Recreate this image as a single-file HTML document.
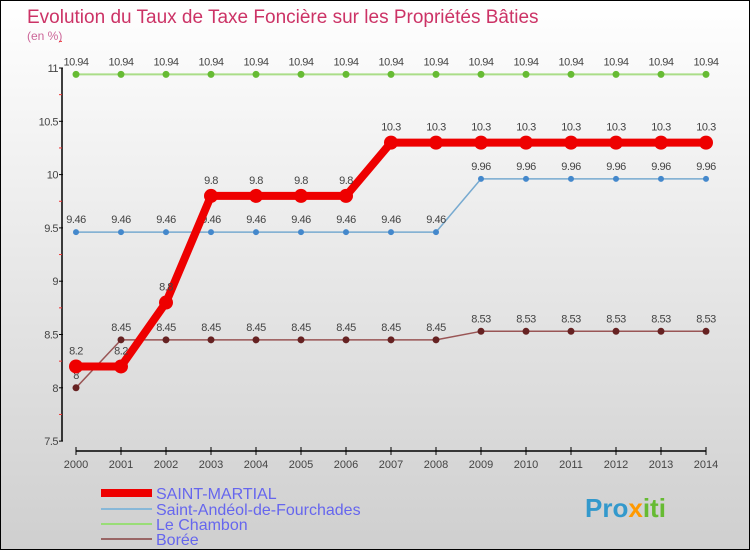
<!DOCTYPE html>
<html><head><meta charset="utf-8"><style>
body{margin:0;}
#c{position:relative;width:748px;height:548px;border:1px solid #000;background:linear-gradient(#ffffff,#cfcfcf);overflow:hidden;font-family:"Liberation Sans",sans-serif;}
svg text{font-family:"Liberation Sans",sans-serif;}
</style></head><body>
<div id="c">
<svg id="s" width="748" height="548" xmlns="http://www.w3.org/2000/svg">
<text x="26" y="22" font-size="19" fill="#cc3366">Evolution du Taux de Taxe Foncière sur les Propriétés Bâties</text>
<text x="26" y="39" font-size="12" fill="#cc6699">(en %)</text>
<g id="axes"></g><g id="series"></g>
<g>
<line x1="100" y1="492" x2="151" y2="492" stroke="#ee0000" stroke-width="8"/>
<text x="155" y="498" font-size="16" fill="#6666ee">SAINT-MARTIAL</text>
<line x1="100" y1="508" x2="151" y2="508" stroke="#88b8d8" stroke-width="2"/>
<text x="155" y="514" font-size="16" fill="#6666ee">Saint-Andéol-de-Fourchades</text>
<line x1="100" y1="523" x2="151" y2="523" stroke="#99dd77" stroke-width="2"/>
<text x="155" y="529" font-size="16" fill="#6666ee">Le Chambon</text>
<line x1="100" y1="538" x2="151" y2="538" stroke="#996666" stroke-width="2"/>
<text x="155" y="544" font-size="16" fill="#6666ee">Borée</text>
</g>
<text x="584" y="516" font-size="26" font-weight="bold"><tspan fill="#3399cc">Pro</tspan><tspan fill="#ff9900">x</tspan><tspan fill="#66bb33">iti</tspan></text>
</svg></div>
<script>
const years=[2000,2001,2002,2003,2004,2005,2006,2007,2008,2009,2010,2011,2012,2013,2014];
const saintMartial=[8.2,8.2,8.8,9.8,9.8,9.8,9.8,10.3,10.3,10.3,10.3,10.3,10.3,10.3,10.3];
const saintAndeol=[9.46,9.46,9.46,9.46,9.46,9.46,9.46,9.46,9.46,9.96,9.96,9.96,9.96,9.96,9.96];
const leChambon=[10.94,10.94,10.94,10.94,10.94,10.94,10.94,10.94,10.94,10.94,10.94,10.94,10.94,10.94,10.94];
const boree=[8,8.45,8.45,8.45,8.45,8.45,8.45,8.45,8.45,8.53,8.53,8.53,8.53,8.53,8.53];
const yTicks=[7.5,8,8.5,9,9.5,10,10.5,11];
const NS="http://www.w3.org/2000/svg";
const X=i=>75+i*45;
const Y=v=>67+(11-v)*106.6;
function mk(t,a,p){const e=document.createElementNS(NS,t);for(const k in a)e.setAttribute(k,a[k]);p.appendChild(e);return e;}
const ax=document.getElementById('axes'),se=document.getElementById('series');
let l=mk('line',{x1:61,y1:Y(11),x2:61,y2:Y(7.5),stroke:'#000','stroke-width':1.5},ax);


yTicks.forEach(v=>{
 let t=mk('line',{x1:58,y1:Y(v),x2:62,y2:Y(v),stroke:'#000'},ax);
 
 
 let m=mk('line',{x1:58,y1:Y(v+0.25),x2:61,y2:Y(v+0.25),stroke:'#e33'},ax);
 
 
 let tx=mk('text',{x:57,y:Y(v)+4,'font-size':11,fill:'#444','text-anchor':'end','letter-spacing':'-0.5'},ax);tx.textContent=String(v);
 
 
});
l=mk('line',{x1:X(0),y1:450,x2:X(14),y2:450,stroke:'#000','stroke-width':1.5},ax);


years.forEach((y,i)=>{
 let t=mk('line',{x1:X(i),y1:446,x2:X(i),y2:454,stroke:'#000'},ax);
 
 
 let tx=mk('text',{x:X(i),y:467,'font-size':11,fill:'#444','text-anchor':'middle'},ax);tx.textContent=y;
 
 
});
function series(d,name,col,w,r,dot,lab,off){
 const g=mk('g',{},se);
 
 
 const p=mk('polyline',{points:d.map((v,i)=>X(i)+','+Y(v)).join(' '),fill:'none',stroke:col,'stroke-width':w,'stroke-linejoin':'round'},g);
 
 
 d.forEach((v,i)=>{
  const c=mk('circle',{cx:X(i),cy:Y(v),r:r,fill:dot},g);
  
  
  const t=mk('text',{x:X(i),y:Y(v)-off,'font-size':11,fill:'#444','text-anchor':'middle','letter-spacing':'-0.5'},g);t.textContent=String(v);
  
  
 });
}
series(leChambon,'le-chambon','#aadd88',2,3.5,'#66bb33',1,9);
series(saintAndeol,'saint-andeol','#77aad0',1.5,3,'#4488cc',1,9);
series(boree,'boree','#995555',1.5,3.5,'#662222',1,9);
series(saintMartial,'saint-martial','#ee0000',8,7,'#ee0000',1,12);
</script>
</body></html>
